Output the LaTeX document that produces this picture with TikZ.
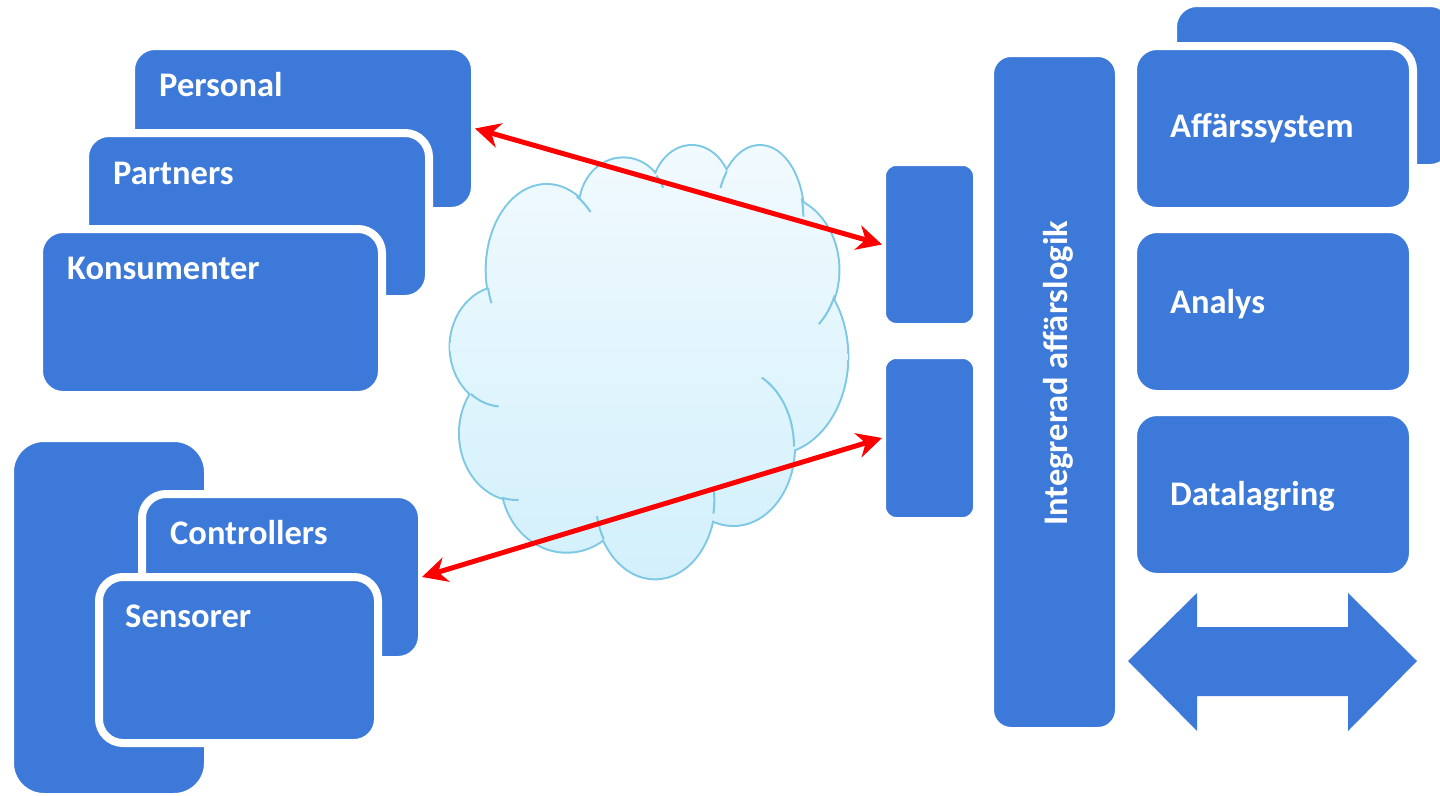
\documentclass[tikz,border=0pt]{standalone}
\usepackage{fontspec}
\setmainfont{Carlito}
\usetikzlibrary{arrows.meta}
\definecolor{boxblue}{RGB}{60,121,216}
\definecolor{cloudline}{RGB}{125,200,228}
\definecolor{cloudtop}{RGB}{241,250,254}
\definecolor{cloudbot}{RGB}{210,240,252}
\begin{document}
\begin{tikzpicture}[x=1pt,y=-1pt,
  box/.style={rectangle, rounded corners=24pt, fill=boxblue, draw=white, line width=8pt, inner sep=0pt, outer sep=0pt},
  smallbox/.style={box, rounded corners=14pt},
  lbl/.style={text=white, font=\fontsize{34.5}{41}\selectfont\bfseries, inner sep=0pt, anchor=base west},
  link/.style={red, line width=5pt, {Stealth[length=25pt,width=25pt,inset=8pt]}-{Stealth[length=25pt,width=25pt,inset=8pt]}},
  cloudstroke/.style={draw=cloudline}]
\useasboundingbox (0,0) rectangle (1440,795);

% ---------- cloud ----------
\foreach \cx/\cy/\rx/\ry in {546.7/270/60/85, 623.3/206.7/43.3/48.3, 691.7/196.7/40/50.7,
  760/216.7/43.3/70.7, 776.7/270/61.7/74, 773.3/356.7/74/96.7, 733.3/446.7/60.7/78.3,
  655/500/59.3/78.3, 566.7/480/65/71.7, 516.7/433.3/56.7/66.7, 503.3/346.7/52.7/60}
  {\draw[cloudstroke, line width=4pt] (\cx,\cy) ellipse [x radius=\rx, y radius=\ry];}
\shade[top color=cloudtop, bottom color=cloudbot]
  (546.7,270) ellipse [x radius=60, y radius=85]
  (623.3,206.7) ellipse [x radius=43.3, y radius=48.3]
  (691.7,196.7) ellipse [x radius=40, y radius=50.7]
  (760,216.7) ellipse [x radius=43.3, y radius=70.7]
  (776.7,270) ellipse [x radius=61.7, y radius=74]
  (773.3,356.7) ellipse [x radius=74, y radius=96.7]
  (733.3,446.7) ellipse [x radius=60.7, y radius=78.3]
  (655,500) ellipse [x radius=59.3, y radius=78.3]
  (566.7,480) ellipse [x radius=65, y radius=71.7]
  (516.7,433.3) ellipse [x radius=56.7, y radius=66.7]
  (503.3,346.7) ellipse [x radius=52.7, y radius=60]
  (650,362) ellipse [x radius=150, y radius=160];
\foreach \cx/\cy/\rx/\ry/\a/\b in {546.7/270/60/85/300/317, 546.7/270/60/85/157/168,
  623.3/206.7/43.3/48.3/320/337, 760/216.7/43.3/70.7/204/220, 760/216.7/43.3/70.7/345/360,
  776.7/270/61.7/74/20/47, 733.3/446.7/60.7/78.3/298/360, 655/500/59.3/78.3/150/168,
  655/500/59.3/78.3/-8/10, 516.7/433.3/56.7/66.7/88/105, 503.3/346.7/52.7/60/95/128}
  {\draw[cloudstroke, line width=2pt] (\cx,\cy) ++({\rx*cos(\a)},{\ry*sin(\a)})
     arc [start angle=\a, end angle=\b, x radius=\rx, y radius=\ry];}

% ---------- left top stack ----------
\node[box, minimum width=344pt, minimum height=165pt] (personal) at (303,128.5) {};
\node[lbl] (tpersonal) at (159,96) {Personal};
\node[box, minimum width=344pt, minimum height=166pt] (partners) at (257,216) {};
\node[lbl] (tpartners) at (113,184) {Partners};
\node[box, minimum width=343pt, minimum height=166pt] (konsumenter) at (210.5,312) {};
\node[lbl] (tkonsumenter) at (67,279) {Konsumenter};

% ---------- left bottom stack ----------
\node[box, rounded corners=34pt, minimum width=198pt, minimum height=359pt] (devback) at (109,617.5) {};
\node[box, minimum width=280pt, minimum height=166pt] (controllers) at (282,577) {};
\node[lbl] (tcontrollers) at (170,544) {Controllers};
\node[box, minimum width=279pt, minimum height=166pt] (sensorer) at (238.5,660) {};
\node[lbl] (tsensorer) at (125,627) {Sensorer};

% ---------- right side ----------
\node[box, minimum width=281pt, minimum height=165pt] (affback) at (1313.5,85.5) {};
\node[box, minimum width=280pt, minimum height=165pt] (affar) at (1273,128.5) {};
\node[lbl] (taffar) at (1170,137) {Affärssystem};
\node[box, minimum width=280pt, minimum height=165pt] (analys) at (1273,311.5) {};
\node[lbl] (tanalys) at (1170,313) {Analys};
\node[box, minimum width=280pt, minimum height=165pt] (datalagring) at (1273,494.5) {};
\node[lbl] (tdatalagring) at (1170,505) {Datalagring};

\node[box, rounded corners=21pt, minimum width=129pt, minimum height=678pt] (bar) at (1054.5,392) {};
\node[lbl, rotate=90] (tbar) at (1067,526) {Integrerad affärslogik};

\node[smallbox, minimum width=95pt, minimum height=165pt] (small1) at (929.5,244.5) {};
\node[smallbox, minimum width=95pt, minimum height=166pt] (small2) at (929.5,438) {};

\fill[boxblue] (1128,661) -- (1197,593) -- (1197,627) -- (1348,627) -- (1348,593)
  -- (1417,661) -- (1348,731) -- (1348,696) -- (1197,696) -- (1197,731) -- cycle;

% ---------- connectors ----------
\draw[link] (personal.east) -- (small1.west);
\draw[link] (small2.west) -- (controllers.east);
\end{tikzpicture}
\end{document}
